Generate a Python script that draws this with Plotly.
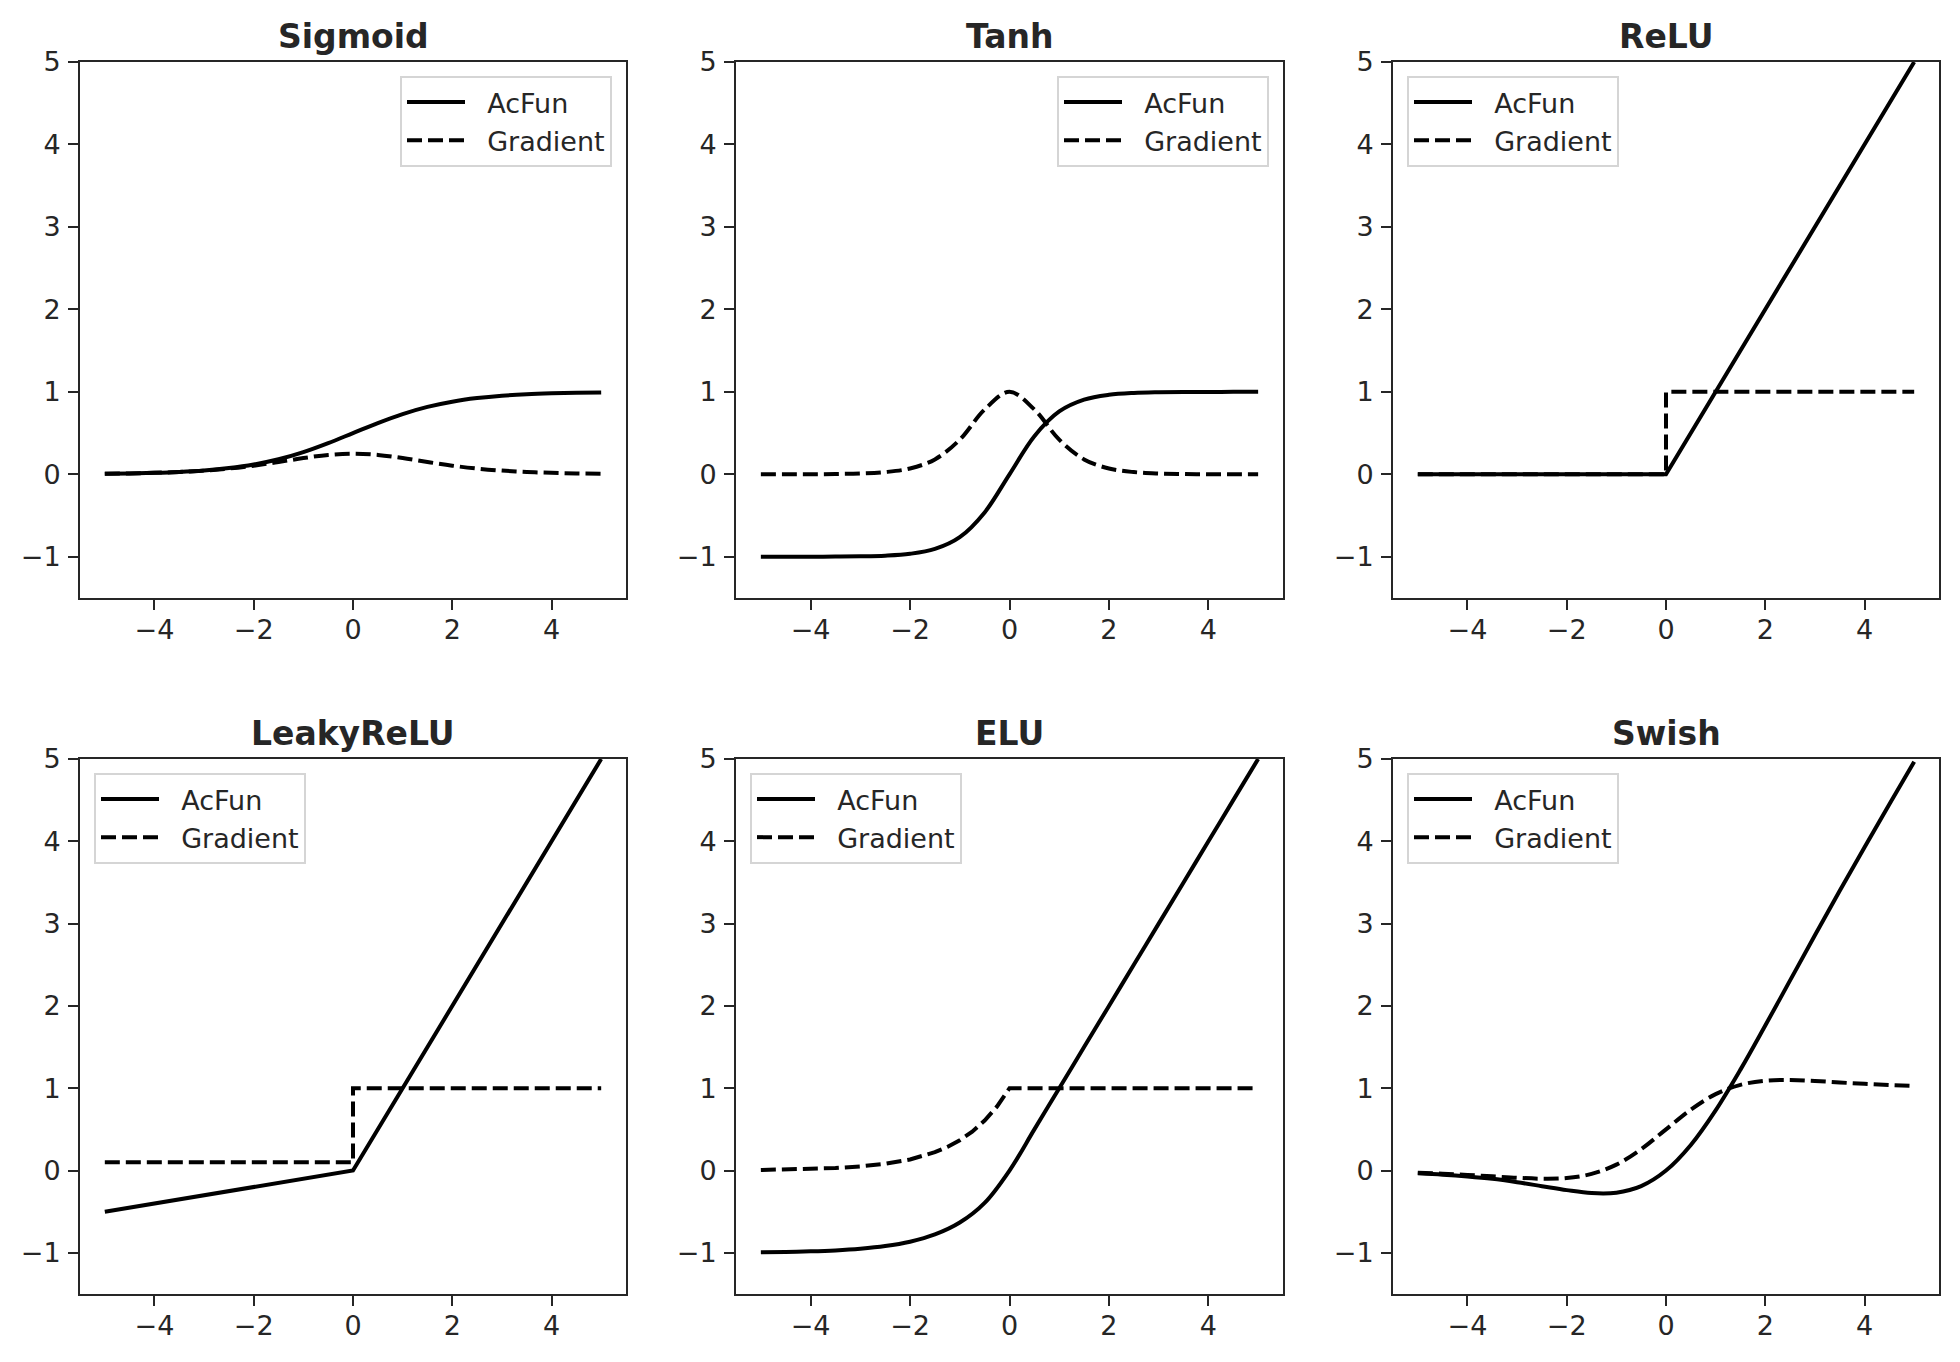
import plotly.graph_objects as go

# ---------------- data ----------------
X = [-5.0, -4.5, -4.0, -3.5, -3.0, -2.5, -2.0, -1.5, -1.0, -0.5, 0.0,
     0.5, 1.0, 1.5, 2.0, 2.5, 3.0, 3.5, 4.0, 4.5, 5.0]

SIGMOID = [0.007, 0.011, 0.018, 0.029, 0.047, 0.076, 0.119, 0.182, 0.269, 0.378, 0.500,
           0.622, 0.731, 0.818, 0.881, 0.924, 0.953, 0.971, 0.982, 0.989, 0.993]
SIGMOID_GRAD = [0.007, 0.011, 0.018, 0.028, 0.045, 0.070, 0.105, 0.149, 0.197, 0.235, 0.250,
                0.235, 0.197, 0.149, 0.105, 0.070, 0.045, 0.028, 0.018, 0.011, 0.007]

TANH = [-1.000, -1.000, -0.999, -0.998, -0.995, -0.987, -0.964, -0.905, -0.762, -0.462, 0.000,
        0.462, 0.762, 0.905, 0.964, 0.987, 0.995, 0.998, 0.999, 1.000, 1.000]
TANH_GRAD = [0.000, 0.001, 0.001, 0.004, 0.010, 0.027, 0.071, 0.181, 0.420, 0.786, 1.000,
             0.786, 0.420, 0.181, 0.071, 0.027, 0.010, 0.004, 0.001, 0.001, 0.000]

RELU_X = [-5.0, 0.0, 5.0]
RELU = [0.0, 0.0, 5.0]
RELU_GRAD_X = [-5.0, 0.0, 0.0, 5.0]
RELU_GRAD = [0.0, 0.0, 1.0, 1.0]

LEAKY_X = [-5.0, 0.0, 5.0]
LEAKY = [-0.5, 0.0, 5.0]
LEAKY_GRAD_X = [-5.0, 0.0, 0.0, 5.0]
LEAKY_GRAD = [0.1, 0.1, 1.0, 1.0]

ELU = [-0.993, -0.989, -0.982, -0.970, -0.950, -0.918, -0.865, -0.777, -0.632, -0.393, 0.000,
       0.5, 1.0, 1.5, 2.0, 2.5, 3.0, 3.5, 4.0, 4.5, 5.0]
ELU_GRAD_X = [-5.0, -4.5, -4.0, -3.5, -3.0, -2.5, -2.0, -1.75, -1.5, -1.25, -1.0,
              -0.75, -0.5, -0.25, 0.0, 5.0]
ELU_GRAD = [0.007, 0.011, 0.018, 0.030, 0.050, 0.082, 0.135, 0.174, 0.223, 0.287, 0.368,
            0.472, 0.607, 0.779, 1.000, 1.000]

SWISH = [-0.034, -0.050, -0.072, -0.101, -0.142, -0.190, -0.238, -0.274, -0.269, -0.189, 0.000,
         0.311, 0.731, 1.226, 1.762, 2.310, 2.858, 3.399, 3.928, 4.450, 4.967]
SWISH_GRAD = [-0.027, -0.038, -0.053, -0.070, -0.088, -0.099, -0.091, -0.041, 0.072, 0.260, 0.500,
              0.740, 0.928, 1.041, 1.091, 1.099, 1.088, 1.070, 1.053, 1.038, 1.027]

TITLES = ["Sigmoid", "Tanh", "ReLU", "LeakyReLU", "ELU", "Swish"]
LEGEND_SIDE = ["right", "right", "left", "left", "left", "left"]
NAMES = ["AcFun", "Gradient"]
X_TICKS = [-4, -2, 0, 2, 4]
Y_TICKS = [-1, 0, 1, 2, 3, 4, 5]

SERIES = [
    (X, SIGMOID, X, SIGMOID_GRAD, "spline", "spline"),
    (X, TANH, X, TANH_GRAD, "spline", "spline"),
    (RELU_X, RELU, RELU_GRAD_X, RELU_GRAD, "linear", "linear"),
    (LEAKY_X, LEAKY, LEAKY_GRAD_X, LEAKY_GRAD, "linear", "linear"),
    (X, ELU, ELU_GRAD_X, ELU_GRAD, "spline", "linear"),
    (X, SWISH, X, SWISH_GRAD, "spline", "spline"),
]

# ---------------- layout geometry ----------------
W, H = 1960, 1362
COLS_PX = [(80, 626), (736, 1283), (1393, 1939)]
ROWS_PX = [(62, 598), (759, 1294)]
TEXT = "#262626"
FONT = "DejaVu Sans"
PAD = "\u00a0\u00a0"


def fmt(t):
    return ("\u2212" + str(-t)) if t < 0 else str(t)


fig = go.Figure()
layout = dict(
    template="none",
    width=W, height=H,
    margin=dict(l=0, r=0, t=0, b=0, pad=0, autoexpand=False),
    paper_bgcolor="white", plot_bgcolor="white",
    font=dict(family=FONT, size=27, color=TEXT),
    annotations=[],
)

for i, (ax_x, ay, gx, gy, s1, s2) in enumerate(SERIES):
    r, c = divmod(i, 3)
    x0, x1 = COLS_PX[c]
    y0, y1 = ROWS_PX[r]
    n = "" if i == 0 else str(i + 1)
    leg = "legend" if i == 0 else f"legend{i + 1}"
    xa, ya = f"x{n}", f"y{n}"

    fig.add_trace(go.Scatter(
        x=ax_x, y=ay, mode="lines", name=PAD + NAMES[0], xaxis=xa, yaxis=ya, legend=leg,
        line=dict(color="black", width=4, shape=s1, smoothing=1.0),
    ))
    fig.add_trace(go.Scatter(
        x=gx, y=gy, mode="lines", name=PAD + NAMES[1], xaxis=xa, yaxis=ya, legend=leg,
        line=dict(color="black", width=4, dash="15px,6px", shape=s2, smoothing=1.0),
    ))

    axis_common = dict(
        showline=True, mirror=True, linecolor=TEXT, linewidth=2,
        ticks="outside", ticklen=10, tickwidth=2, tickcolor=TEXT,
        showgrid=False, zeroline=False, automargin=False,
        tickfont=dict(family=FONT, size=27, color=TEXT),
    )
    layout[f"xaxis{n}"] = dict(
        domain=[x0 / W, x1 / W], range=[-5.5, 5.5], anchor=ya,
        tickvals=X_TICKS, ticktext=[fmt(t) for t in X_TICKS],
        ticklabelstandoff=-3,
        **axis_common,
    )
    layout[f"yaxis{n}"] = dict(
        domain=[1 - y1 / H, 1 - y0 / H], range=[-1.5, 5], anchor=xa,
        tickvals=Y_TICKS, ticktext=[fmt(t) for t in Y_TICKS],
        ticklabelstandoff=2,
        **axis_common,
    )

    layout["annotations"].append(dict(
        text=f"<b>{TITLES[i]}</b>", xref="paper", yref="paper",
        x=(x0 + x1) / 2 / W, y=1 - y0 / H, xanchor="center", yanchor="bottom",
        yshift=4, showarrow=False, font=dict(family=FONT, size=33, color=TEXT),
    ))

    inset = 14
    if LEGEND_SIDE[i] == "right":
        lx, xanc = (x1 - inset) / W, "right"
    else:
        lx, xanc = (x0 + inset) / W, "left"
    layout[leg] = dict(
        x=lx, y=1 - (y0 + inset) / H, xanchor=xanc, yanchor="top",
        xref="paper", yref="paper",
        bgcolor="rgba(255,255,255,0.8)", bordercolor="#d5d5d5", borderwidth=2,
        font=dict(family=FONT, size=27, color=TEXT),
        itemwidth=58,
    )

layout["showlegend"] = True
fig.update_layout(**layout)
fig.write_html(
    "out.html",
    config={"displayModeBar": False},
    post_script="document.body.style.margin='0';document.body.style.padding='0';",
)
